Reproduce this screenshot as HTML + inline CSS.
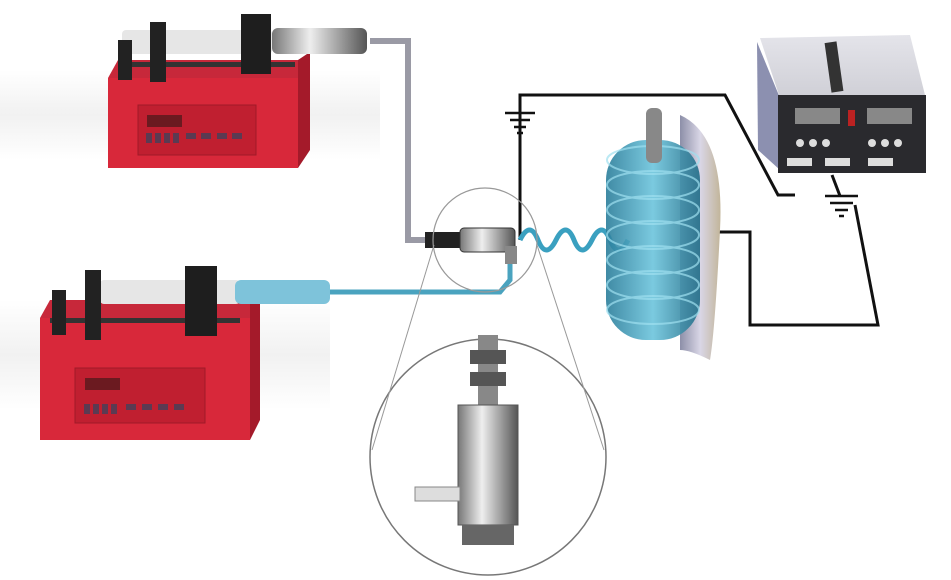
<!DOCTYPE html><html><head><style>body{margin:0;background:#fff}svg{display:block}</style></head><body>
<svg width="951" height="580" viewBox="0 0 951 580" xmlns="http://www.w3.org/2000/svg">
<defs>
<linearGradient id="band" x1="0" y1="0" x2="0" y2="1"><stop offset="0" stop-color="#fff"/><stop offset="0.5" stop-color="#f1f1f1"/><stop offset="1" stop-color="#fff"/></linearGradient>
<linearGradient id="coil" x1="0" y1="0" x2="1" y2="0"><stop offset="0" stop-color="#2a7d9a"/><stop offset="0.5" stop-color="#6cc4dc"/><stop offset="1" stop-color="#1f6b86"/></linearGradient>
<linearGradient id="plate" x1="0" y1="0" x2="1" y2="0"><stop offset="0" stop-color="#8d8fa8"/><stop offset="0.5" stop-color="#d9d6e6"/><stop offset="1" stop-color="#c2b59a"/></linearGradient>
<linearGradient id="metal" x1="0" y1="0" x2="1" y2="0"><stop offset="0" stop-color="#777"/><stop offset="0.4" stop-color="#eee"/><stop offset="1" stop-color="#555"/></linearGradient>
<linearGradient id="ps" x1="0" y1="0" x2="0" y2="1"><stop offset="0" stop-color="#e4e4ea"/><stop offset="1" stop-color="#cfcfd6"/></linearGradient>
</defs>
<rect width="951" height="580" fill="#fff"/>
<rect x="0" y="70" width="380" height="90" fill="url(#band)"/>
<rect x="0" y="300" width="330" height="110" fill="url(#band)"/>
<!-- tubes -->
<polyline points="370,41 408,41 408,240 462,240" fill="none" stroke="#9a9aa5" stroke-width="6"/>
<polyline points="320,292 500,292 510,280 510,252" fill="none" stroke="#4aa3bf" stroke-width="5"/>
<!-- wires -->
<g fill="none" stroke="#111" stroke-width="3">
<polyline points="520,240 520,95 725,95 778,195 795,195"/>
<polyline points="700,232 750,232 750,325 878,325 855,205"/>
<line x1="520" y1="100" x2="520" y2="112"/>
</g>
<g stroke="#111" stroke-width="2.5">
<line x1="505" y1="113" x2="535" y2="113"/><line x1="510" y1="120" x2="530" y2="120"/><line x1="514" y1="127" x2="526" y2="127"/><line x1="517" y1="133" x2="523" y2="133"/>
<line x1="825" y1="196" x2="858" y2="196"/><line x1="830" y1="203" x2="853" y2="203"/><line x1="835" y1="210" x2="848" y2="210"/><line x1="839" y1="216" x2="844" y2="216"/>
<line x1="832" y1="175" x2="840" y2="196" stroke-width="3"/>
</g>
<!-- pump 1 -->
<polygon points="108,78 118,60 298,60 298,78" fill="#c7283a"/>
<rect x="108" y="78" width="190" height="90" fill="#d8283a"/>
<polygon points="298,60 310,52 310,150 298,168" fill="#a41a2a"/>
<rect x="138" y="105" width="118" height="50" fill="#c01f30" stroke="#a01a28"/>
<rect x="147" y="115" width="35" height="12" fill="#6b1a20"/>
<g fill="#5b3a52"><rect x="146" y="133" width="6" height="10"/><rect x="155" y="133" width="6" height="10"/><rect x="164" y="133" width="6" height="10"/><rect x="173" y="133" width="6" height="10"/><rect x="186" y="133" width="10" height="6"/><rect x="201" y="133" width="10" height="6"/><rect x="217" y="133" width="10" height="6"/><rect x="232" y="133" width="10" height="6"/></g>
<rect x="122" y="30" width="150" height="24" rx="4" fill="#e6e6e6"/>
<rect x="272" y="28" width="95" height="26" rx="6" fill="url(#metal)"/>
<rect x="120" y="62" width="175" height="5" fill="#333"/>
<rect x="118" y="40" width="14" height="40" fill="#222"/><rect x="150" y="22" width="16" height="60" fill="#222"/>
<rect x="241" y="14" width="30" height="60" fill="#1e1e1e"/>
<!-- pump 2 -->
<polygon points="40,318 50,300 250,300 250,318" fill="#c7283a"/>
<rect x="40" y="318" width="210" height="122" fill="#d8283a"/>
<polygon points="250,300 260,292 260,420 250,440" fill="#a41a2a"/>
<rect x="75" y="368" width="130" height="55" fill="#c01f30" stroke="#a01a28"/>
<rect x="85" y="378" width="35" height="12" fill="#6b1a20"/>
<g fill="#5b3a52"><rect x="84" y="404" width="6" height="10"/><rect x="93" y="404" width="6" height="10"/><rect x="102" y="404" width="6" height="10"/><rect x="111" y="404" width="6" height="10"/><rect x="126" y="404" width="10" height="6"/><rect x="142" y="404" width="10" height="6"/><rect x="158" y="404" width="10" height="6"/><rect x="174" y="404" width="10" height="6"/></g>
<rect x="100" y="280" width="140" height="24" rx="4" fill="#e6e6e6"/>
<rect x="235" y="280" width="95" height="24" rx="6" fill="#7ec3da"/>
<rect x="50" y="318" width="190" height="5" fill="#333"/>
<rect x="52" y="290" width="14" height="45" fill="#222"/><rect x="85" y="270" width="16" height="70" fill="#222"/>
<rect x="185" y="266" width="32" height="70" fill="#1e1e1e"/>
<!-- connector -->
<rect x="425" y="232" width="35" height="16" fill="#222"/>
<rect x="460" y="228" width="55" height="24" rx="4" fill="url(#metal)" stroke="#333"/>
<rect x="505" y="246" width="12" height="18" fill="#888"/>
<!-- spiral -->
<path d="M520,240 q10,-20 18,0 t18,0 t18,0 t18,0 t18,0 t18,0" fill="none" stroke="#3aa0c0" stroke-width="5"/>
<!-- coil and plate -->
<path d="M680,115 q45,20 40,115 q-5,100 -10,130 q-20,-10 -30,-10 z" fill="url(#plate)"/>
<rect x="606" y="140" width="94" height="200" rx="40" fill="url(#coil)" opacity="0.9"/>
<g fill="none" stroke="#9fe0f0" stroke-width="2" opacity="0.7">
<ellipse cx="653" cy="160" rx="46" ry="14"/><ellipse cx="653" cy="185" rx="46" ry="14"/><ellipse cx="653" cy="210" rx="46" ry="14"/><ellipse cx="653" cy="235" rx="46" ry="14"/><ellipse cx="653" cy="260" rx="46" ry="14"/><ellipse cx="653" cy="285" rx="46" ry="14"/><ellipse cx="653" cy="310" rx="46" ry="14"/></g>
<rect x="646" y="108" width="16" height="55" rx="6" fill="#888"/>
<!-- power supply -->
<polygon points="760,38 910,35 925,95 780,98" fill="url(#ps)"/>
<polygon points="757,42 780,98 780,170 758,150" fill="#8c90b0"/>
<rect x="778" y="95" width="148" height="78" fill="#2a2a2e"/>
<rect x="795" y="108" width="45" height="16" fill="#888"/><rect x="867" y="108" width="45" height="16" fill="#888"/>
<rect x="848" y="110" width="7" height="16" fill="#b22"/>
<g fill="#ddd"><circle cx="800" cy="143" r="4"/><circle cx="813" cy="143" r="4"/><circle cx="826" cy="143" r="4"/><circle cx="872" cy="143" r="4"/><circle cx="885" cy="143" r="4"/><circle cx="898" cy="143" r="4"/>
<rect x="787" y="158" width="25" height="8"/><rect x="825" y="158" width="25" height="8"/><rect x="868" y="158" width="25" height="8"/></g>
<rect x="828" y="42" width="12" height="50" fill="#333" transform="rotate(-8 834 67)"/>
<!-- magnifier -->
<circle cx="485" cy="240" r="52" fill="none" stroke="#999" stroke-width="1.2"/>
<circle cx="488" cy="457" r="118" fill="none" stroke="#777" stroke-width="1.5"/>
<line x1="434" y1="245" x2="372" y2="450" stroke="#999"/><line x1="537" y1="245" x2="604" y2="450" stroke="#999"/>
<rect x="478" y="335" width="20" height="70" fill="#888"/>
<rect x="470" y="350" width="36" height="14" fill="#555"/><rect x="470" y="372" width="36" height="14" fill="#555"/>
<rect x="458" y="405" width="60" height="120" fill="url(#metal)" stroke="#555"/>
<rect x="462" y="525" width="52" height="20" fill="#666"/>
<rect x="415" y="487" width="45" height="14" fill="#ddd" stroke="#888"/>
</svg></body></html>
